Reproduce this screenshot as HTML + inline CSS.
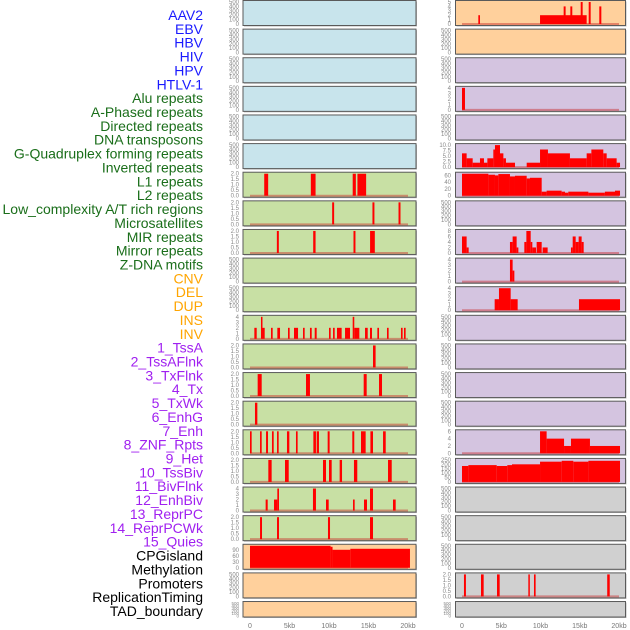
<!DOCTYPE html>
<html><head><meta charset="utf-8"><style>
html,body{margin:0;padding:0;background:#fff;width:630px;height:630px;overflow:hidden}
svg{display:block}
</style></head><body>
<svg id="chart" width="630" height="630" xmlns="http://www.w3.org/2000/svg" font-family="Liberation Sans, sans-serif"></svg>
<script>
const trackLabels = ["AAV2","EBV","HBV","HIV","HPV","HTLV-1","Alu repeats","A-Phased repeats","Directed repeats","DNA transposons","G-Quadruplex forming repeats","Inverted repeats","L1 repeats","L2 repeats","Low_complexity A/T rich regions","Microsatellites","MIR repeats","Mirror repeats","Z-DNA motifs","CNV","DEL","DUP","INS","INV","1_TssA","2_TssAFlnk","3_TxFlnk","4_Tx","5_TxWk","6_EnhG","7_Enh","8_ZNF_Rpts","9_Het","10_TssBiv","11_BivFlnk","12_EnhBiv","13_ReprPC","14_ReprPCWk","15_Quies","CPGisland","Methylation","Promoters","ReplicationTiming","TAD_boundary"];
const labelColors = ["#1a1aff",6,"#1a6e1a",13,"#ffa500",5,"#a020f0",15,"#000000",5];
const xTickLabels = ["0","5kb","10kb","15kb","20kb"];
const xTickValues = [0,5,10,15,20];
const ticksEmpty = [0,100,200,300,400,500];
const ticks2 = [0,0.5,1,1.5,2];
const ticks4 = [0,1,2,3,4];

// Left column tracks
const L6s=[1.8,7.7,13.0,13.6], L6e=[2.3,8.3,13.4,14.7], L6v=[2,2,2,2];
const L7s=[10.4,15.5,18.8], L7e=[10.65,15.75,19.05], L7v=[2,2,2];
const L8s=[3.4,8.0,13.1,15.2], L8e=[3.65,8.3,13.35,15.8], L8v=[2,2,2,2];
const L11s=[0.55,1.39,1.56,2.66,3.46,4.81,5.57,6.71,7.59,8.19,10.0,10.51,11.01,12.03,13.0,13.2,14.56,15.19,16.12,17.34,19.11,19.49];
const L11e=[0.85,1.56,1.86,2.87,3.80,5.02,6.08,6.92,7.81,8.44,10.21,10.72,11.6,12.66,13.2,13.84,14.9,15.44,16.33,17.55,19.32,19.7];
const L11v=[2,4,2,2,2,2,2,2,2,2,2,2,2,2,4,2,2,2,2,2,2,2];
const L12s=[15.57], L12e=[15.9], L12v=[2];
const L13s=[0.97,7.09,14.39,16.33], L13e=[1.48,7.59,14.77,16.71], L13v=[2,2,2,2];
const L14s=[0.63], L14e=[0.93], L14v=[2];
const L15s=[0,1.27,2.03,2.78,3.42,4.68,5.82,8.02,8.44,9.83,12.95,14.05,15.24,16.84];
const L15e=[0.21,1.48,2.28,3.0,3.63,4.98,6.03,8.35,8.73,10.08,13.2,14.64,15.57,17.18];
const L15v=[2,2,2,2,2,2,2,2,2,2,2,2,2,2];
const L16s=[2.32,4.43,9.24,10.0,11.35,13.16,17.47], L16e=[2.74,4.9,9.62,10.34,11.65,13.58,17.94], L16v=[2,2,2,2,2,2,2];
const L17s=[1.98,3.04,3.46,7.97,9.62,13.04,14.43,15.19,18.1], L17e=[2.24,3.46,3.67,8.35,9.96,13.25,14.81,15.57,18.44], L17v=[2,2,4,4,2,2,2,4,2];
const L18s=[1.27,3.42,9.87,15.19], L18e=[1.52,3.67,10.13,15.57], L18v=[2,2,2,2];
const L19s=[0,10.2,10.45,12.7], L19e=[10.2,10.45,12.7,20.25], L19v=[110,105,90,95];

// Right column tracks
const R0s=[2.08,9.94,12.95,13.8,15.12,16.14,17.49], R0e=[2.29,15.88,13.2,14.05,15.37,16.39,17.75], R0v=[2,2,4,4,5,5,4];
const R3s=[0], R3e=[0.38], R3v=[4];
const R5s=[0,0.59,1.36,2.29,2.8,3.23,3.99,4.2,4.84,5.27,5.6,8.24,9.94,10.95,13.75,15.88,16.48,18.0,18.43,19.7];
const R5e=[0.59,1.36,2.29,2.8,3.23,3.99,4.2,4.84,5.27,5.6,6.75,9.94,10.95,13.75,15.88,16.48,18.0,18.43,19.7,20.13];
const R5v=[6.25,4,2,4,2,4,8,10,6.25,4,2,2,8,6.25,4,6.25,8,6.25,4,2];
const R6s=[0,3.36,4.2,4.63,6.11,6.75,8.24,8.66,10.15,10.78,12.69,13.12,13.54,16.1,18.2,19.49];
const R6e=[3.36,4.2,4.63,6.11,6.75,8.24,8.66,10.15,10.78,12.69,13.12,13.54,16.1,18.2,19.49,20.13];
const R6v=[65,62,60,64,57,59,51,53,12,15,12,9,12,9,12,15];
const R8s=[0,0.59,6.11,6.45,6.96,7.94,8.2,8.75,8.96,9.51,10.27,13.88,14.1,14.48,14.86,15.24];
const R8e=[0.59,0.85,6.45,6.96,7.18,8.2,8.75,8.96,9.43,10.15,10.91,14.1,14.48,14.86,15.24,15.5];
const R8v=[6,2,4,6,2,4,8,4,2,4,2,2,6,4,6,4];
const R9s=[6.11,6.45], R9e=[6.45,6.67], R9v=[4,2];
const R10s=[4.16,4.71,6.2,14.9], R10e=[4.71,6.2,7.09,20.13], R10v=[2,4,2,2];
const R15s=[9.94,10.78,13.0,13.88,16.3], R15e=[10.78,13.0,13.88,16.3,20.13], R15v=[6,4,2,4,2];
const R16s=[0,0.81,4.42,5.77,6.37,9.94,12.7,14.18,16.1], R16e=[0.81,4.42,5.77,6.37,9.94,12.7,14.18,16.1,20.13], R16v=[181,191,181,191,200,230,240,230,240];
const R20s=[0.25,2.42,4.46,8.45,9.17,18.5], R20e=[0.5,2.76,4.8,8.62,9.38,18.82], R20v=[2,2,2,2,2,2];

const BLUE="#c8e4ec",GREEN="#c8e0a4",PEACH="#ffd09c",LAV="#d4c4e0",GRAY="#d0d0d0";
function T(max,ticks,lbl,s,e,v){return {max,ticks,lbl,s,e,v};}
const fmt1=t=>t.toFixed(1);
const leftTracks=[
 T(500,ticksEmpty,null),T(500,ticksEmpty,null),T(500,ticksEmpty,null),T(500,ticksEmpty,null),T(500,ticksEmpty,null),T(500,ticksEmpty,null),
 T(2,ticks2,fmt1,L6s,L6e,L6v),T(2,ticks2,fmt1,L7s,L7e,L7v),T(2,ticks2,fmt1,L8s,L8e,L8v),
 T(500,ticksEmpty,null),T(500,ticksEmpty,null),
 T(4,ticks4,null,L11s,L11e,L11v),
 T(2,ticks2,fmt1,L12s,L12e,L12v),T(2,ticks2,fmt1,L13s,L13e,L13v),T(2,ticks2,fmt1,L14s,L14e,L14v),
 T(2,ticks2,fmt1,L15s,L15e,L15v),T(2,ticks2,fmt1,L16s,L16e,L16v),T(4,ticks4,null,L17s,L17e,L17v),T(2,ticks2,fmt1,L18s,L18e,L18v),
 T(110,[0,30,60,90],null,L19s,L19e,L19v),
 T(500,ticksEmpty,null),T(500,ticksEmpty,null)];
const leftColors=[BLUE,BLUE,BLUE,BLUE,BLUE,BLUE,GREEN,GREEN,GREEN,GREEN,GREEN,GREEN,GREEN,GREEN,GREEN,GREEN,GREEN,GREEN,GREEN,PEACH,PEACH,PEACH];
const rightTracks=[
 T(5,[0,1,2,3,4,5],null,R0s,R0e,R0v),T(500,ticksEmpty,null),T(500,ticksEmpty,null),
 T(4,ticks4,null,R3s,R3e,R3v),T(500,ticksEmpty,null),
 T(10,[0,2.5,5,7.5,10],fmt1,R5s,R5e,R5v),T(65,[0,20,40,60],null,R6s,R6e,R6v),T(500,ticksEmpty,null),
 T(8,[0,2,4,6,8],null,R8s,R8e,R8v),T(4,ticks4,null,R9s,R9e,R9v),T(4,ticks4,null,R10s,R10e,R10v),
 T(500,ticksEmpty,null),T(500,ticksEmpty,null),T(500,ticksEmpty,null),T(500,ticksEmpty,null),
 T(6,[0,2,4,6],null,R15s,R15e,R15v),T(250,[0,50,100,150,200,250],null,R16s,R16e,R16v),
 T(500,ticksEmpty,null),T(500,ticksEmpty,null),T(500,ticksEmpty,null),
 T(2,ticks2,fmt1,R20s,R20e,R20v),T(500,ticksEmpty,null)];
const rightColors=[PEACH,PEACH,LAV,LAV,LAV,LAV,LAV,LAV,LAV,LAV,LAV,LAV,LAV,LAV,LAV,LAV,LAV,GRAY,GRAY,GRAY,GRAY,GRAY];

const svg=document.getElementById('chart');
const NS="http://www.w3.org/2000/svg";
function mk(tag,attrs,parent){const el=document.createElementNS(NS,tag);for(const k in attrs)el.setAttribute(k,attrs[k]);(parent||svg).appendChild(el);return el;}

// labels
let li=0;
for(let g=0;g<labelColors.length;g+=2){
 for(let k=0;k<labelColors[g+1];k++){
  const t=mk('text',{x:203,y:15+13.86*li+5,'text-anchor':'end','font-size':'14',fill:labelColors[g]});
  t.textContent=trackLabels[li];
  
  
  li++;
 }
}

function drawColumn(tracks,colors,x0,x1,kx0,kx1,tickX,side){
 const xs=kb=>kx0+(kx1-kx0)*kb/20;
 tracks.forEach((tr,i)=>{
  const top=i*28.62+0.5, h=(i===21)?15.5:25;
  const bot=top+h;
  const ys=v=>bot-1.5-(h-3)*v/tr.max;
  const g=mk('g',{});
  
  
  mk('rect',{x:x0+1,y:top+1,width:x1-x0,height:h,fill:'#bbb'},g);
  mk('rect',{x:x0,y:top,width:x1-x0,height:h,fill:colors[i],stroke:'#5a5a5a','stroke-width':1},g);
  if(tr.s){
   mk('line',{x1:xs(0),x2:xs(20),y1:ys(0),y2:ys(0),stroke:'rgba(200,40,40,0.45)','stroke-width':2},g);
   for(let j=0;j<tr.s.length;j++){
    const y=ys(tr.v[j]);
    const b=mk('rect',{x:xs(tr.s[j]),y:y,width:Math.max(1.5,xs(tr.e[j])-xs(tr.s[j])),height:ys(0)-y,fill:'#ff0000'},g);
    
    
   }
  }
  const fs=(i===21)?4.5:6;
  tr.ticks.forEach(t=>{
   const tt=mk('text',{x:tickX,y:ys(t)+2,'text-anchor':'end','font-size':fs,fill:'#888'},g);
   tt.textContent=tr.lbl?tr.lbl(t):String(t);
  });
 });
 xTickValues.forEach((v,k)=>{
  const t=mk('text',{x:xs(v),y:628,'text-anchor':'middle','font-size':7,fill:'#777'});
  t.textContent=xTickLabels[k];
  
  
 });
}
drawColumn(leftTracks,leftColors,243,416,250,408,239,'left');
drawColumn(rightTracks,rightColors,455.5,625.5,462,619,451,'right');
</script>
</body></html>
